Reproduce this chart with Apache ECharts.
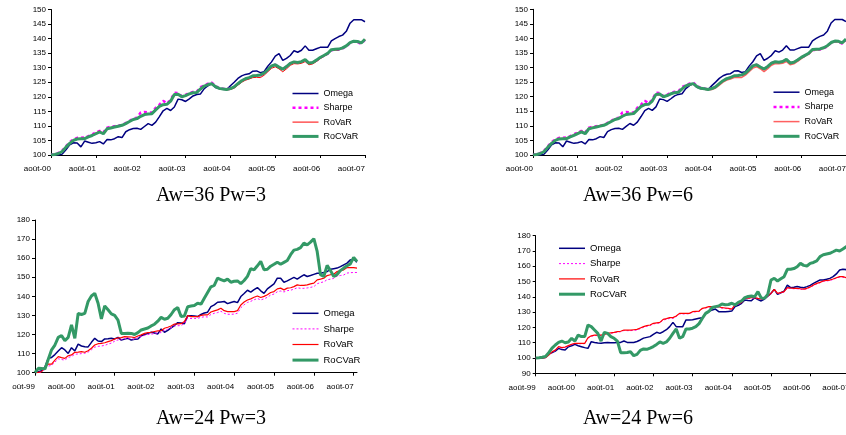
<!DOCTYPE html>
<html><head><meta charset="utf-8">
<script src="https://cdn.jsdelivr.net/npm/echarts@6/dist/echarts.min.js"></script>
<style>html,body{margin:0;padding:0;background:#fff}#c{width:846px;height:435px}</style>
</head><body><div id="c"></div>
<script>
// ---- tick labels (French month abbreviations, Excel style) ----
const MONTHS = ['janv','févr','mars','avr','mai','juin','juil','août','sept','oct','nov','déc'];
function monthLabels(startYear, startMonth, n) {
  const out = [];
  for (let k = 0; k < n; k++) {
    const m = (startMonth + k) % 12;
    const y = startYear + Math.floor((startMonth + k) / 12);
    out.push(MONTHS[m] + '-' + String(y % 100).padStart(2, '0'));
  }
  return out;
}
const cats36 = monthLabels(2000, 7, 85);   // août-00 .. août-07
const cats24 = monthLabels(1999, 7, 98);   // août-99 .. sept-07

const SERIES_NAMES = ['Omega', 'Sharpe', 'RoVaR', 'RoCVaR'];
const TITLES = ['Aw=36 Pw=3', 'Aw=36 Pw=6', 'Aw=24 Pw=3', 'Aw=24 Pw=6'];

// ---- Aw=36 (top panels) ----
const omega36 = [100,100,100,100.3,101.8,103.5,104.2,104.1,102.8,104.8,104.4,104,104.2,104.6,103.8,105.3,105.2,105.6,106.3,106,108,108.7,109.1,109.2,108.8,109.8,110.8,110.2,111.3,113.2,115.2,116,115.3,116.5,119.2,119,118.4,119.3,120.3,120.8,121,122.8,123.8,124.5,123.2,122.8,122.6,122.5,123.8,125,126.3,127.2,127.7,127.9,128.8,128.9,128.3,128.6,130.5,132,134,134.8,132.5,133.2,134.2,135.8,135.3,136,137.5,136,136,136.5,137,137,137,139.2,140,140.7,141.2,142.5,145.3,146.5,146.5,146.5,145.8];
const sharpe36 = [100,100.3,100.7,101.5,103,104.4,105.4,105.9,105.9,106,106.5,107.1,107.8,108.3,107.7,109.4,109.7,109.9,110.1,110.3,111,111.7,112.5,112.8,114.6,114.8,114.6,114.6,116.2,117.3,118.6,117.8,118.9,121.4,121.3,120.2,120.7,121.3,121.7,121.8,123.3,123.9,124.5,124.9,123.7,123,122.8,122.6,122.8,123.4,124.4,125.5,126.1,126.5,127.1,127.2,127.4,128,129.2,130.6,131,130.1,129.4,130.3,131.5,132,131.7,132,132.7,131.5,131.7,132.5,133.4,134.1,134.8,136,136.1,136.2,136.6,137.3,138.5,139,138.8,138.2,139.6];
const rovar36 = [100,100.2,100.6,101.3,102.8,104.2,105.2,105.7,105.7,105.8,106.4,106.9,107.6,108.2,107.5,109.3,109.5,109.8,110.1,110.3,110.9,111.6,112.3,112.6,113.5,114,114.2,114.3,115.6,116.7,117.3,117.4,118.5,120.6,120.7,119.9,120.3,120.9,121.3,121.4,122.6,123.6,124.1,124.4,123.4,122.8,122.6,122.4,122.5,123,124,125,125.7,126.1,126.6,126.7,126.6,127.4,128.6,129.8,130.3,129.6,128.6,129.6,130.8,131.4,131.3,131.5,132.1,131,131.3,132.1,133.1,133.9,134.6,135.9,136,136.2,136.6,137.3,138.4,138.9,138.8,138.3,139.6];
const rocvar36 = [100,100.2,100.5,101.2,102.7,104,105,105.5,105.6,105.6,106.2,106.7,107.3,107.9,107.3,109,109.3,109.6,109.9,110.2,110.8,111.5,112.2,112.5,113.3,113.9,114.1,114.2,115.5,116.7,117.3,117.4,118.5,120.8,120.9,120,120.4,121,121.4,121.5,122.7,123.7,124.2,124.5,123.5,122.9,122.7,122.5,122.8,123.4,124.5,125.5,126.2,126.6,127.2,127.3,127.5,128.1,129.3,130.6,131,130.2,129.5,130.4,131.5,132,131.8,132.1,132.8,131.6,131.8,132.6,133.5,134.2,134.9,136.2,136.3,136.4,136.8,137.5,138.6,139.1,139,138.5,139.8];

// ---- Aw=24 Pw=3 (bottom left) ----
const omega24p3 = [100,100.5,101,103,107.5,108,109.5,111.4,113.1,111.9,110.1,113.1,111.4,115,114,113.6,113.5,115.9,118,116.6,116.3,117.7,117.8,118,117.7,118.5,117.1,117.6,118,117.1,117.5,117.7,119.4,120,120.6,121.2,120.8,120.3,122.9,121.2,122.2,123.5,124.7,126.2,126,125.7,129.9,129.9,129.7,129.4,130.5,131.3,131.7,134.6,135.5,136.9,137.1,137.3,136.2,136.8,137.3,136.7,139.9,141.5,143.2,142.2,143.5,144.6,142.9,141.6,143.9,145.2,146.5,149.5,149.5,147.4,148.1,149,149.9,149,150.2,151.3,150.4,150.9,151.5,152.1,152.1,152.5,153,154.2,154.5,154.8,155.6,156.5,157.4,159.1,159.5,157.9];
const sharpe24p3 = [100,100.1,100.3,102.2,103.5,103.8,105.5,107.3,106.9,106.6,108,108.5,109.7,109.8,110,110.2,110.8,112,113.4,113.8,114,114.3,115,115.5,116.5,117.2,117.3,117.9,117.8,117.7,117.5,118.3,118.9,119.6,120,120.2,120.5,120.9,121,122.2,122.8,123.5,124.5,124.6,124.7,125.8,128.6,128.4,128.4,128.5,129,129.3,129.2,130.5,131.1,131.5,132.2,131.1,130.6,130.6,130.7,131.2,134,135.6,136.8,137.4,138.2,138.9,138.1,138.7,139.5,140.7,141.2,142.4,142.8,142.3,143,143.2,143.8,144.5,144.2,144.2,144.4,144.7,145.1,146.6,147.2,147.6,148.7,149,149.4,150.6,150.9,151.2,152.2,152.4,152.5,152.5];
const rovar24p3 = [100,100.2,100.5,103,104.5,104.5,106.6,108.4,107.9,107.5,108.9,109.3,110.7,110.8,111,110.7,111.5,112.8,114.5,115.2,115.4,115.7,116.3,116.8,117.7,118.2,118.4,118.9,118.8,118.7,118.4,119.2,119.8,120.6,121,121.2,121.6,121.9,122,123.3,123.8,124.5,125.5,125.6,125.7,126.8,129.9,129.4,129.4,129.4,130,130.3,130.3,131.8,132.4,132.9,133.8,132.5,132,132,132,132.5,135.5,137,138.1,138.7,139.5,140.2,139.4,140,140.8,142,142.5,143.9,144.3,143.4,144.3,144.5,145.1,146,145.7,145.8,146,146.5,146.9,148.6,149,149.5,150.9,151.3,151.6,153,153.5,153.9,155.1,155.1,155,154.8];
const rocvar24p3 = [100,102.3,102.2,102,107,112,114.5,118.5,119.4,116.8,118.5,125,118,131,130.5,131.1,137.3,140.2,141.6,136.4,128.2,135,133,130.8,130,127.5,120.6,120.5,120.7,120.6,120,121,122.4,122.9,123.4,124.5,125.4,127,129,128,128.5,130.5,133,134.1,129.4,129.7,134.6,134.9,135.2,136.4,135.9,139,142,145,145.7,149.5,148.8,148.1,149,147.4,147.9,148.1,146.7,148.3,150.5,154.5,153.9,156,158.3,153.9,154.2,155.8,156.8,157.9,156.8,157.8,158.8,161.8,164.2,164.6,165.5,167.9,167,168.4,170.2,163.5,151.3,150.4,156.2,153.5,150.4,151.5,153.5,154.8,156,157,160.4,158.3];

// ---- Aw=24 Pw=6 (bottom right) ----
const omega24p6 = [100,100,100,100.5,103,103.5,104.5,106.3,105.5,105.2,107.4,108,108.9,108,107.4,106.8,106.3,110.7,110.2,109.8,109.6,110,110.2,110,110,110.1,110.2,111.1,110.2,110.2,110.2,110.8,111.8,113,113.5,114,115.5,116.8,116.1,117.2,118.5,120.5,123.3,120.5,120.5,120.5,124.9,124.9,125,125.5,126,126.4,129.2,130.5,131.4,132,130.3,130.3,130.3,130.5,130.7,133.6,134.5,135.8,137.9,137.6,137.5,139.5,138.2,137.3,138.6,140.5,142.3,144.9,141.6,142.7,143.8,147.7,146,146.3,146.7,146.3,146,146.7,147.5,148.8,150,151,151,151.5,152.1,153.2,155,157.6,158,157.8,157.5,158];
const sharpe24p6 = [100,100,100,100.2,101.8,103.7,104.9,107.1,106.5,106.9,107.8,108.8,109.4,109.4,109.3,109.4,113,114.2,114.7,114.7,114.8,115.2,115.8,116.2,116.5,116.9,117.2,118,117.9,117.9,118.1,118.3,119.2,120.1,120.8,121.2,122.3,122.6,122.9,124.8,125.3,125.9,125.9,127.1,128.8,128.8,128.9,128.9,130,130.2,130.4,132.2,132.7,133.3,133.3,133.3,133.3,132.6,132.4,132.2,131.7,134.4,135.2,136.1,138.7,138.9,139.2,139.2,138.7,138.3,138.7,140.2,142,144.6,142,142.5,143.1,145.7,145.5,145.3,145.3,145,144.8,145.3,146.2,147.4,148.5,149.2,150.1,150.4,150.7,151.4,152.2,152.9,152.9,152.2,152.3,152.5];
const rovar24p6 = [100,100,100,100.2,102,104,105.2,107.4,106.8,107.2,108.1,109,109.6,109.6,109.6,109.6,113.3,114.5,115,115,115,115.5,116.1,116.5,116.8,117.2,117.5,118.3,118.3,118.3,118.5,118.7,119.6,120.5,121.2,121.6,122.7,123,123.3,125.3,125.8,126.4,126.4,127.5,129.2,129.2,129.2,129.2,130.3,130.5,130.7,132.5,133,133.6,133.6,133.6,133.6,132.9,132.7,132.5,132,134.7,135.5,136.4,139,139.2,139.5,139.5,139,138.6,139,140.5,142.3,144.9,142.3,142.8,143.4,146,145.8,145.6,145.6,145.3,145.1,145.6,146.5,147.7,148.8,149.5,150.4,150.7,151,151.7,152.5,153.2,153.2,152.5,152.6,152.8];
const rocvar24p6 = [100,100.2,100.5,101,103.5,106.5,108.5,110.2,111.1,110,110.5,112.9,111.1,115,114,114,121.6,120.5,118.3,116.1,111.1,116.8,116.1,114,112.9,111.1,103.5,103.5,103.6,104.1,101.5,102.4,105,105.9,105.7,106.5,107.5,108.9,110.5,109.6,110.5,112.9,116.1,119,113,114,119,119,119.5,120.5,122.5,126,129.2,130.5,133,133.6,134,135.3,134.9,135,135.8,134.7,136.4,137.3,139.5,140.2,140.5,140.1,143.4,139.3,139,141.5,151,152.1,150.4,151.8,153.2,158,158,158.5,159.7,161.9,160.6,160.2,161.9,162.5,163.5,166.3,167.5,168,168.5,169.5,170.6,170,171.3,172.8,173.5,174];

const SANS = '"Liberation Sans", Arial, sans-serif';
const SERIF = '"Liberation Serif", "Times New Roman", serif';

const panels = [
  { grid: {left: 51, top: 9.5, width: 314, height: 145.5}, cats: cats36, y: [100, 150, 5],
    legend: {left: 291, top: 89, gap: 5.3, font: 9}, title: [211, 196],
    data: [omega36, sharpe36, rovar36, rocvar36],
    styles: [['#000080', 1.5, 'solid'], ['#FF00FF', 2.5, [3, 3]], ['#FF0000', 1, 'solid'], ['#339966', 3, 'solid']] },
  { grid: {left: 533, top: 9.3, width: 313, height: 145.7}, cats: cats36, y: [100, 150, 5],
    legend: {left: 772, top: 87.7, gap: 5.7, font: 9}, title: [638, 196],
    data: [omega36, sharpe36, rovar36, rocvar36],
    styles: [['#000080', 1.5, 'solid'], ['#FF00FF', 2.5, [3, 3]], ['#FF6060', 1.5, 'solid'], ['#339966', 3, 'solid']] },
  { grid: {left: 35, top: 220, width: 322, height: 152.7}, cats: cats24, y: [100, 180, 10],
    legend: {left: 291, top: 308.3, gap: 5.6, font: 9.5}, title: [211, 419],
    data: [omega24p3, sharpe24p3, rovar24p3, rocvar24p3],
    styles: [['#000080', 1.5, 'solid'], ['#FF00FF', 1, [2, 2]], ['#FF0000', 1.2, 'solid'], ['#339966', 3, 'solid']] },
  { grid: {left: 535.7, top: 235.7, width: 317, height: 137.6}, cats: cats24, y: [90, 180, 10],
    legend: {left: 557.5, top: 243.3, gap: 5.3, font: 9.5}, title: [638, 419],
    data: [omega24p6, sharpe24p6, rovar24p6, rocvar24p6],
    styles: [['#000080', 1.5, 'solid'], ['#FF00FF', 1, [2, 2]], ['#FF0000', 1.2, 'solid'], ['#339966', 3, 'solid']] }
];

const every12 = (i) => i % 12 === 0;
const option = {
  animation: false,
  backgroundColor: '#fff',
  grid: [], xAxis: [], yAxis: [], series: [], legend: [], graphic: []
};

panels.forEach((p, k) => {
  option.grid.push(Object.assign({containLabel: false, outerBoundsMode: 'none'}, p.grid));
  option.xAxis.push({
    type: 'category', gridIndex: k, data: p.cats, boundaryGap: false,
    axisLine: {show: true, lineStyle: {color: '#000', width: 1}},
    axisTick: {show: true, length: 3, interval: every12, lineStyle: {color: '#000'}},
    axisLabel: {interval: every12, align: 'right', margin: 10, fontSize: 8, fontFamily: SANS, color: '#000', hideOverlap: false},
    splitLine: {show: false}
  });
  option.yAxis.push({
    type: 'value', gridIndex: k, min: p.y[0], max: p.y[1], interval: p.y[2],
    axisLine: {show: true, lineStyle: {color: '#000', width: 1}},
    axisTick: {show: true, length: 3, lineStyle: {color: '#000'}},
    axisLabel: {margin: 5, fontSize: 8, fontFamily: SANS, color: '#000'},
    splitLine: {show: false}
  });
  const names = [];
  SERIES_NAMES.forEach((nm, j) => {
    const s = p.styles[j];
    const id = nm + '|' + k;
    names.push(id);
    option.series.push({
      type: 'line', name: id, xAxisIndex: k, yAxisIndex: k, data: p.data[j],
      symbol: 'none', showSymbol: false, silent: true, z: 2 + j,
      lineStyle: {color: s[0], width: s[1], type: s[2]},
      itemStyle: {color: s[0]},
      emphasis: {disabled: true}
    });
  });
  option.legend.push({
    orient: 'vertical', left: p.legend.left, top: p.legend.top, padding: 0,
    itemWidth: 26, itemHeight: 10, itemGap: p.legend.gap, selectedMode: false,
    data: names, formatter: (n) => n.split('|')[0],
    itemStyle: {opacity: 0},
    lineStyle: {width: 'inherit'},
    textStyle: {fontSize: p.legend.font, fontFamily: SANS, color: '#000'}
  });
  option.graphic.push({
    type: 'text', x: p.title[0], y: p.title[1], silent: true,
    style: {text: TITLES[k], fill: '#000', fontSize: 20, fontFamily: SERIF, align: 'center', verticalAlign: 'middle'}
  });
});
// the leftmost bottom label is cropped at the picture edge in the reference
option.graphic.push({type: 'rect', shape: {x: 0, y: 379, width: 12, height: 16}, style: {fill: '#fff'}, z: 100, silent: true});

const chart = echarts.init(document.getElementById('c'), null, {renderer: 'canvas'});
chart.setOption(option);
</script></body></html>
